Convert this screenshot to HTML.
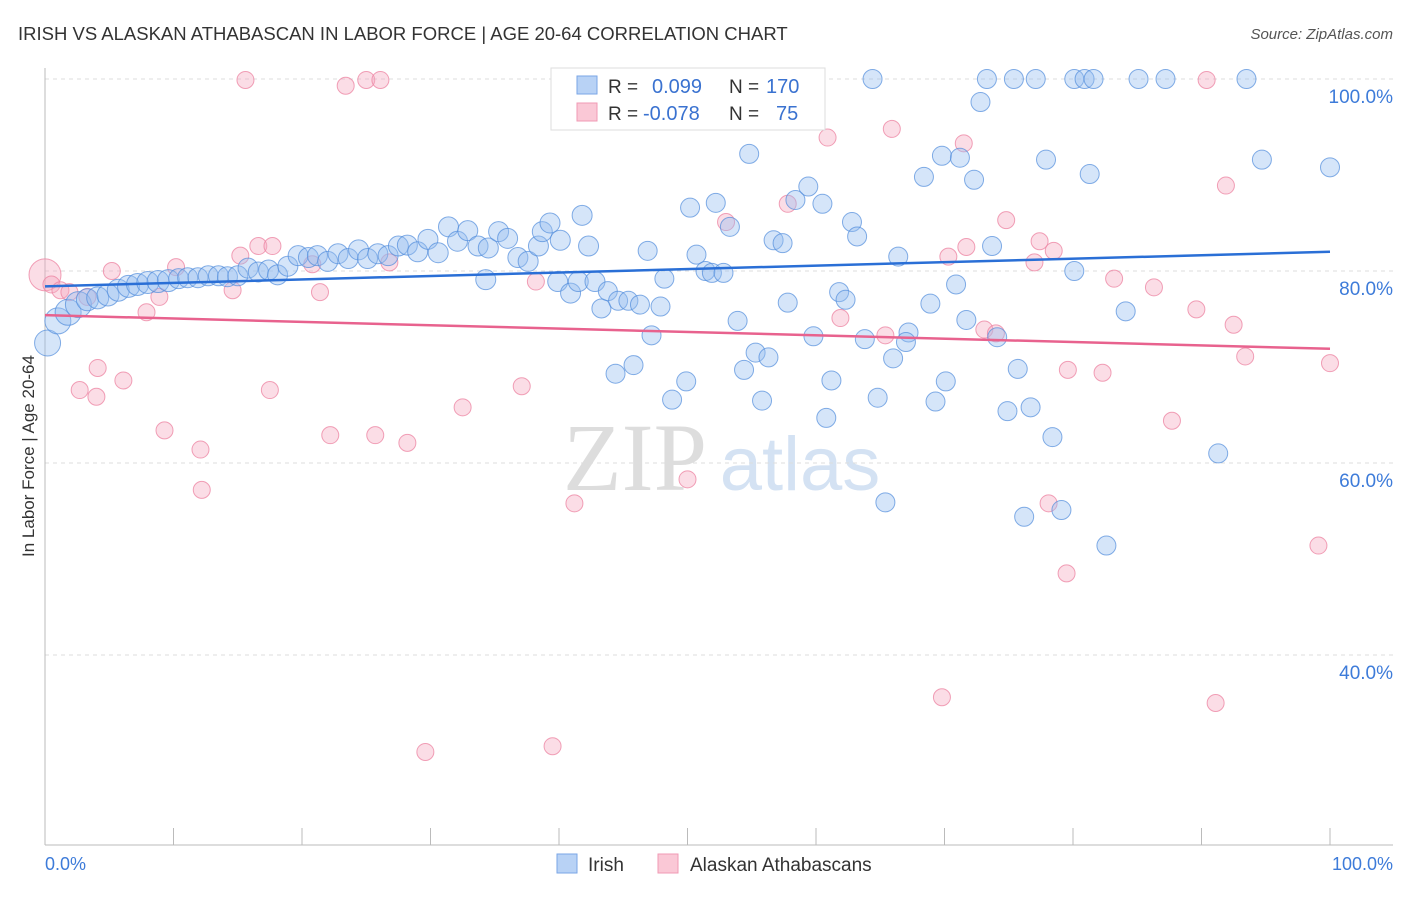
<!DOCTYPE html>
<html><head><meta charset="utf-8"><style>
body{margin:0;background:#fff;font-family:"Liberation Sans",sans-serif}
svg text{font-family:"Liberation Sans",sans-serif}
</style></head><body>
<svg id="chart" width="1406" height="892" xmlns="http://www.w3.org/2000/svg">
<text x="18" y="40" font-size="18.5" fill="#333">IRISH VS ALASKAN ATHABASCAN IN LABOR FORCE | AGE 20-64 CORRELATION CHART</text>
<text x="1393" y="39" font-size="15" fill="#555" text-anchor="end" font-style="italic">Source: ZipAtlas.com</text>
<g>
<text x="635" y="490" font-size="96" fill="#ddd" text-anchor="middle" font-family="Liberation Serif" style="font-family:'Liberation Serif',serif">ZIP</text>
<text x="800" y="490" font-size="76" fill="#d4e2f3" text-anchor="middle">atlas</text>
</g>
<g id="grid"></g>
<g id="axes"></g>
<g id="pts"></g>
<g id="trends"></g>
<text transform="translate(34,456) rotate(-90)" font-size="17" fill="#333" text-anchor="middle">In Labor Force | Age 20-64</text>
<g>
<rect x="551" y="68" width="274" height="62" fill="#fff" stroke="#ddd"/>
<rect x="577" y="76" width="20" height="18" fill="#b8d2f5" stroke="#7aa6e6"/>
<rect x="577" y="103" width="20" height="18" fill="#fac8d6" stroke="#f09ab4"/>
<text x="608" y="93" font-size="19" fill="#333">R =</text>
<text x="652" y="93" font-size="20" fill="#3a72d0">0.099</text>
<text x="729" y="93" font-size="19" fill="#333">N =</text>
<text x="766" y="93" font-size="20" fill="#3a72d0">170</text>
<text x="608" y="120" font-size="19" fill="#333">R =</text>
<text x="643" y="120" font-size="20" fill="#3a72d0">-0.078</text>
<text x="729" y="120" font-size="19" fill="#333">N =</text>
<text x="776" y="120" font-size="20" fill="#3a72d0">75</text>
</g>
<g>
<rect x="557" y="854" width="20" height="19" fill="#b8d2f5" stroke="#7aa6e6"/>
<text x="588" y="871" font-size="19" fill="#333">Irish</text>
<rect x="658" y="854" width="20" height="19" fill="#fac8d6" stroke="#f09ab4"/>
<text x="690" y="871" font-size="19" fill="#333">Alaskan Athabascans</text>
</g>
</svg>
<script>
const blueX=[0.2,1.0,1.8,2.6,3.3,4.1,4.9,5.7,6.5,7.2,8.0,8.8,9.6,10.4,11.1,11.9,12.7,13.5,14.2,15.0,15.8,16.6,17.4,18.1,18.9,19.7,20.5,21.2,22.0,22.8,23.6,24.4,25.1,25.9,26.7,27.5,28.2,29.0,29.8,30.6,31.4,32.1,32.9,33.7,34.5,35.3,36.0,36.8,37.6,38.4,38.7,39.3,40.1,41.8,42.3,34.3,39.9,40.9,41.5,42.8,43.3,43.8,44.6,45.4,46.3,46.9,47.2,47.9,48.2,44.4,45.8,48.8,49.9,50.2,50.7,51.4,51.9,52.2,52.8,53.3,53.9,54.4,54.8,55.3,55.8,56.3,56.7,57.4,57.8,58.4,59.4,59.8,60.5,60.8,61.2,61.8,62.3,62.8,63.2,63.8,64.4,64.8,65.4,66.0,66.4,67.2,67.0,68.4,68.9,69.3,69.8,70.1,70.9,71.2,71.7,72.3,72.8,73.3,73.7,74.1,75.4,75.7,74.9,76.2,76.7,77.1,77.9,78.4,79.1,80.1,80.1,80.9,81.3,81.6,82.6,84.1,85.1,87.2,91.3,93.5,94.7,100];
const blueY=[72.5,74.8,75.7,76.5,77.0,77.2,77.5,78.0,78.4,78.6,78.8,78.9,79.0,79.2,79.3,79.3,79.5,79.5,79.4,79.5,80.3,79.9,80.1,79.6,80.5,81.6,81.4,81.6,81.0,81.8,81.3,82.2,81.3,81.8,81.6,82.6,82.7,82.0,83.3,81.9,84.6,83.1,84.2,82.6,82.4,84.1,83.4,81.4,81.0,82.6,84.1,85.0,83.2,85.8,82.6,79.1,78.9,77.7,78.9,78.9,76.1,77.9,76.9,76.9,76.5,82.1,73.3,76.3,79.2,69.3,70.2,66.6,68.5,86.6,81.7,80.0,79.8,87.1,79.8,84.6,74.8,69.7,92.2,71.5,66.5,71.0,83.2,82.9,76.7,87.4,88.8,73.2,87.0,64.7,68.6,77.8,77.0,85.1,83.6,72.9,100,66.8,55.9,70.9,81.5,73.6,72.6,89.8,76.6,66.4,92.0,68.5,78.6,91.8,74.9,89.5,97.6,100,82.6,73.1,100,69.8,65.4,54.4,65.8,100,91.6,62.7,55.1,100,80.0,100,90.1,100,51.4,75.8,100,100,61.0,100,91.6,90.8];
const pinkX=[0,0.5,1.2,1.9,2.7,3.3,4.0,4.1,5.2,6.1,7.9,8.9,9.3,10.2,12.1,12.2,14.6,15.2,15.6,16.6,17.5,17.7,20.8,21.4,22.2,23.4,25.0,25.7,26.1,26.8,28.2,32.5,37.1,38.2,39.5,41.2,29.6,50.0,53.0,57.8,60.9,61.9,65.4,65.9,70.3,69.8,71.5,71.7,73.1,74.0,74.8,77.0,77.4,78.1,78.5,79.5,79.6,82.3,83.2,86.3,87.7,89.6,90.4,91.1,91.9,92.5,93.4,99.1,100];
const pinkY=[79.6,78.6,78.0,77.8,67.6,77.3,66.9,69.9,80.0,68.6,75.7,77.3,63.4,80.4,61.4,57.2,78.0,81.6,99.9,82.6,67.6,82.6,80.7,77.8,62.9,99.3,99.9,62.9,99.9,80.9,62.1,65.8,68.0,78.9,30.5,55.8,29.9,58.3,85.1,87.0,93.9,75.1,73.3,94.8,81.5,35.6,93.3,82.5,73.9,73.5,85.3,80.9,83.1,55.8,82.1,48.5,69.7,69.4,79.2,78.3,64.4,76.0,99.9,35.0,88.9,74.4,71.1,51.4,70.4];
const blueTrend=[78.4,82.0];
const pinkTrend=[75.4,71.9];
const yTicks=[100,80,60,40];
const yTickLabels=["100.0%","80.0%","60.0%","40.0%"];
const xTicks=[0,10,20,30,40,50,60,70,80,90,100];

const NS="http://www.w3.org/2000/svg";
const sx=v=>45+v*12.85, sy=v=>1039-v*9.6;
function mk(tag,attrs,parent){const e=document.createElementNS(NS,tag);for(const k in attrs)e.setAttribute(k,attrs[k]);document.getElementById(parent).appendChild(e);return e;}
yTicks.forEach((t,i)=>{
 const g=mk('line',{x1:45,x2:1393,y1:sy(t),y2:sy(t),stroke:'#ddd','stroke-dasharray':'4,4'},'grid');
 
 
 const l=mk('text',{x:1393,y:sy(t)+24,'font-size':19,fill:'#3d7bd9','text-anchor':'end'},'grid');l.textContent=yTickLabels[i];
 
 
});
const ax=mk('line',{x1:45,x2:45,y1:68,y2:845,stroke:'#bbb'},'axes');


const bx=mk('line',{x1:45,x2:1393,y1:845,y2:845,stroke:'#bbb'},'axes');


xTicks.forEach(t=>{const k=mk('line',{x1:sx(t),x2:sx(t),y1:828,y2:845,stroke:'#bbb'},'axes');
 
 });
const x0=mk('text',{x:45,y:870,'font-size':18,fill:'#3d7bd9'},'axes');x0.textContent='0.0%';


const x1=mk('text',{x:1393,y:870,'font-size':18,fill:'#3d7bd9','text-anchor':'end'},'axes');x1.textContent='100.0%';


pinkX.forEach((x,i)=>{const c=mk('circle',{cx:sx(x),cy:sy(pinkY[i]),r:i==0?16:8.5,fill:'rgba(246,170,192,0.4)',stroke:'rgba(236,130,160,0.75)','stroke-width':1},'pts');
 
 });
blueX.forEach((x,i)=>{const r=x<3?13:(x<10?11:(x<43?10:9.5));const c=mk('circle',{cx:sx(x),cy:sy(blueY[i]),r:r,fill:'rgba(150,190,240,0.4)',stroke:'rgba(80,140,220,0.7)','stroke-width':1},'pts');
 
 });
const bt=mk('line',{x1:sx(0),x2:sx(100),y1:sy(blueTrend[0]),y2:sy(blueTrend[1]),stroke:'#2a6fd6','stroke-width':2.5},'trends');


const pt=mk('line',{x1:sx(0),x2:sx(100),y1:sy(pinkTrend[0]),y2:sy(pinkTrend[1]),stroke:'#e8628e','stroke-width':2.5},'trends');


</script>
</body></html>
